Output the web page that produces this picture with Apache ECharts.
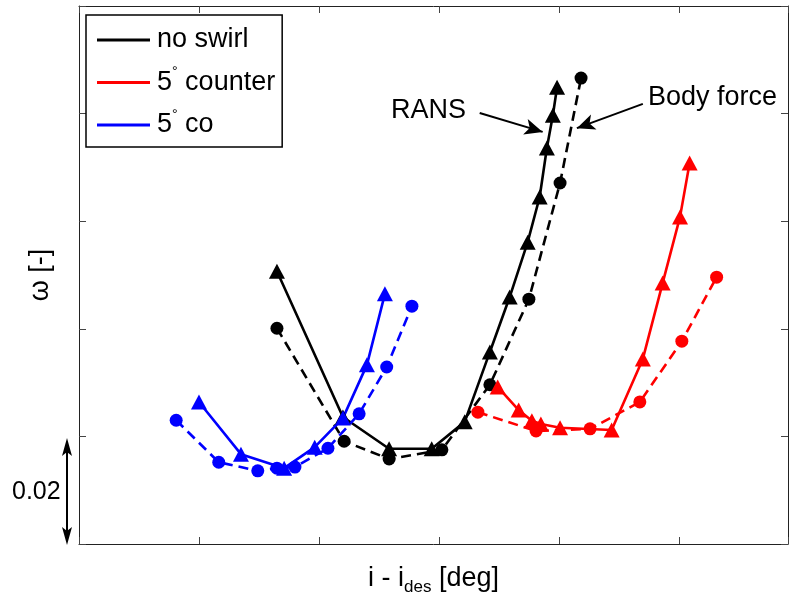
<!DOCTYPE html>
<html>
<head>
<meta charset="utf-8">
<script src="https://cdn.jsdelivr.net/npm/echarts@6/dist/echarts.min.js"></script>
<style>html,body{margin:0;padding:0;background:#fff}#c{width:789px;height:594px}</style>
</head>
<body>
<div id="c"></div>
<script>
// ---- data (x: incidence relative to design, y: loss coefficient) ----
const legendNames = ['no swirl', '5° counter', '5° co'];

const noSwirlRansX = [-2.70, -1.60, -0.83, -0.12, 0.43, 0.85, 1.18, 1.48, 1.68, 1.80, 1.90, 1.97];
const noSwirlRansY = [0.0507, 0.0236, 0.0177, 0.0177, 0.0227, 0.0357, 0.0459, 0.0561, 0.0645, 0.0736, 0.0797, 0.0849];
const noSwirlBfX = [-2.70, -1.58, -0.83, 0.05, 0.85, 1.50, 2.02, 2.37];
const noSwirlBfY = [0.0401, 0.0191, 0.0158, 0.0175, 0.0296, 0.0455, 0.0671, 0.0866];

const counterRansX = [0.98, 1.33, 1.55, 1.70, 2.02, 2.88, 3.40, 3.73, 4.02, 4.18];
const counterRansY = [0.0292, 0.0249, 0.0229, 0.0223, 0.0216, 0.0212, 0.0344, 0.0485, 0.0608, 0.0708];
const counterBfX = [0.65, 1.62, 2.52, 3.35, 4.05, 4.63];
const counterBfY = [0.0245, 0.0210, 0.0214, 0.0264, 0.0377, 0.0496];

const coRansX = [-4.00, -3.30, -2.58, -2.07, -1.60, -1.20, -0.90];
const coRansY = [0.0264, 0.0167, 0.0141, 0.0180, 0.0234, 0.0333, 0.0465];
const coBfX = [-4.38, -3.67, -3.02, -2.70, -2.40, -1.85, -1.33, -0.87, -0.45];
const coBfY = [0.0230, 0.0152, 0.0136, 0.0141, 0.0143, 0.0178, 0.0242, 0.0329, 0.0442];

const annotationLabels = ['RANS', 'Body force'];
const scaleBarLabel = '0.02';

// ---- chart ----
const FONT = 'Liberation Sans, Arial, Helvetica, sans-serif';
const zip = (xs, ys) => xs.map((x, i) => [x, ys[i]]);
const chart = echarts.init(document.getElementById('c'), null, {renderer: 'canvas'});

function mk(name, color, xs, ys, dashed, symbol, extra) {
  return Object.assign({
    name: name, type: 'line', data: zip(xs, ys),
    symbol: symbol, symbolSize: symbol === 'triangle' ? [16, 15] : 13,
    showSymbol: true, clip: false,
    itemStyle: {color: color, borderWidth: 0},
    lineStyle: {color: color, width: 2.6, type: dashed ? [10, 6] : 'solid'},
    emphasis: {disabled: true}, silent: true, z: 2
  }, extra || {});
}

const axisCommon = {
  type: 'value', splitLine: {show: false},
  axisLine: {show: true, onZero: false, lineStyle: {color: '#222', width: 1}},
  axisTick: {show: true, inside: true, length: 7, lineStyle: {color: '#444', width: 1}},
  axisLabel: {show: false}
};

const option = {
  animation: false,
  backgroundColor: '#fff',
  grid: {left: 79, right: 1, top: 6, bottom: 50, containLabel: false, outerBoundsMode: 'none'},
  xAxis: [
    Object.assign({}, axisCommon, {min: -6, max: 5.82, interval: 2, position: 'bottom',
      name: 'i - i{sub|des} [deg]', nameLocation: 'middle', nameGap: 18,
      nameTextStyle: {fontSize: 27, fontFamily: FONT, color: '#000', lineHeight: 34,
        rich: {sub: {fontSize: 17, fontFamily: FONT, color: '#000', lineHeight: 17, verticalAlign: 'bottom'}}}}),
    Object.assign({}, axisCommon, {min: -6, max: 5.82, interval: 2, position: 'top'})
  ],
  yAxis: [
    Object.assign({}, axisCommon, {min: 0, max: 0.1, interval: 0.02, position: 'left',
      name: 'ω [-]', nameLocation: 'middle', nameGap: 25,
      nameTextStyle: {fontSize: 27, fontFamily: FONT, color: '#000'}}),
    Object.assign({}, axisCommon, {min: 0, max: 0.1, interval: 0.02, position: 'right'})
  ],
  legend: {
    show: true, orient: 'vertical', left: 86, top: 15,
    data: legendNames.map(n => ({name: n, icon: 'rect'})),
    itemWidth: 53, itemHeight: 3, itemGap: 8.5,
    padding: [8, 7, 5, 11],
    borderColor: '#000', borderWidth: 1.5, backgroundColor: '#fff',
    selectedMode: false,
    formatter: n => n.replace('°', '{sup|°}'),
    textStyle: {fontSize: 27, fontFamily: FONT, color: '#000', lineHeight: 34, padding: [0, 0, 0, 2],
      rich: {sup: {fontSize: 14, fontFamily: FONT, color: '#000', lineHeight: 14, verticalAlign: 'top'}}}
  },
  series: [
    mk(legendNames[0], '#000000', noSwirlRansX, noSwirlRansY, false, 'triangle', {
      markLine: {
        silent: true, animation: false, symbol: ['none', 'arrow'], symbolSize: [12, 18],
        lineStyle: {color: '#000', width: 2, type: 'solid'},
        label: {show: false}, emphasis: {disabled: true},
        data: [
          [{coord: [0.68, 0.0801]}, {coord: [1.73, 0.0766]}],
          [{coord: [3.40, 0.0818]}, {coord: [2.30, 0.0773]}]
        ]
      }
    }),
    mk(legendNames[0] + ' BF', '#000000', noSwirlBfX, noSwirlBfY, true, 'circle'),
    mk(legendNames[1], '#ff0000', counterRansX, counterRansY, false, 'triangle'),
    mk(legendNames[1] + ' BF', '#ff0000', counterBfX, counterBfY, true, 'circle'),
    mk(legendNames[2], '#0000ff', coRansX, coRansY, false, 'triangle'),
    mk(legendNames[2] + ' BF', '#0000ff', coBfX, coBfY, true, 'circle')
  ],
  graphic: [
    {type: 'text', left: 391, top: 97, style: {text: annotationLabels[0], fontSize: 27, fontFamily: FONT, fill: '#000'}},
    {type: 'text', left: 648, top: 84, style: {text: annotationLabels[1], fontSize: 27, fontFamily: FONT, fill: '#000'}},
    {type: 'text', left: 12, top: 480, style: {text: scaleBarLabel, fontSize: 25, fontFamily: FONT, fill: '#000'}},
    {type: 'line', shape: {x1: 67, y1: 448, x2: 67, y2: 534}, style: {stroke: '#000', lineWidth: 2}},
    {type: 'polygon', shape: {points: [[67, 438], [62, 456], [67, 452], [72, 456]]}, style: {fill: '#000'}},
    {type: 'polygon', shape: {points: [[67, 545], [62, 527], [67, 531], [72, 527]]}, style: {fill: '#000'}}
  ]
};
chart.setOption(option);
</script>
</body>
</html>
